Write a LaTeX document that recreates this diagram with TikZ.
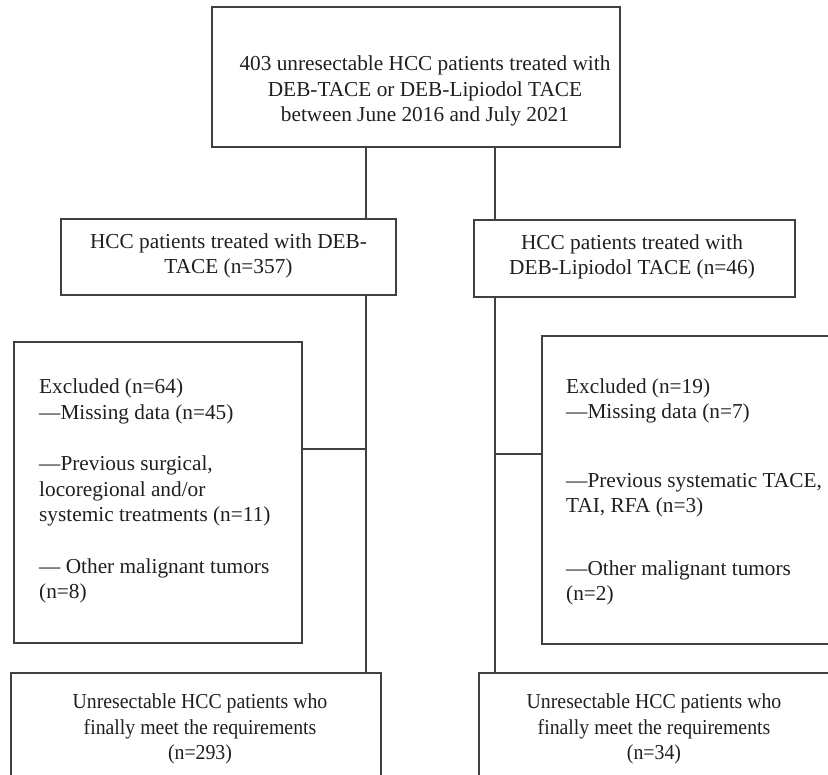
\documentclass[tikz,border=0pt]{standalone}
\usepackage{fontspec}
\setmainfont{Liberation Serif}
\usepackage{tikz}
\usetikzlibrary{calc}
\tikzset{
	box/.style={draw=black!75, line width=1.3pt, rectangle, inner sep=0pt},
	txt/.style={font=\fontsize{21.3}{25.5}\selectfont, inner sep=0pt, align=center, text=black!88},
	narrowtxt/.style={txt, xscale=0.93, transform shape},
	link/.style={draw=black!75, line width=1.3pt}
}

\begin{document}
\begin{tikzpicture}[x=1pt, y=-1pt]
			%%%%% START %%%%%
			\useasboundingbox (0,0) rectangle (828,775);
			\clip (0,0) rectangle (828,775);
			
			% columns
			\coordinate (colL) at (366,0);
			\coordinate (colR) at (495,0);
			
			% boxes
			\node[box, minimum width=408pt, minimum height=140pt] (top) at (416,77) {};
			\node[box, minimum width=335pt, minimum height=76pt] (ldeb) at (228.5,257) {};
			\node[box, minimum width=321pt, minimum height=77pt] (rdeb) at (634.5,258.5) {};
			\node[box, minimum width=288pt, minimum height=301pt] (lexc) at (158,492.5) {};
			\node[box, minimum width=308pt, minimum height=308pt] (rexc) at (696,490) {};
			\node[box, minimum width=370pt, minimum height=127pt] (lfin) at (196,736.5) {};
			\node[box, minimum width=366pt, minimum height=127pt] (rfin) at (662,736.5) {};
			
			% texts
			\node[txt] (toptxt) at (425,91) {403 unresectable HCC patients treated with\\DEB-TACE or DEB-Lipiodol TACE\\between June 2016 and July 2021};
			\node[txt] (ldebtxt) at (228.5,256) {HCC patients treated with DEB-\\TACE (n=357)};
			\node[txt] (rdebtxt) at (632,257) {HCC patients treated with\\DEB-Lipiodol TACE (n=46)};
			\node[txt, align=left, anchor=west] (lexctxt) at (39,491) {Excluded (n=64)\\---Missing data (n=45)\\[26pt]---Previous surgical,\\locoregional and/or\\systemic treatments (n=11)\\[26pt]--- Other malignant tumors\\(n=8)};
			\node[txt, align=left, anchor=west] (rexctxt) at (566,492) {Excluded (n=19)\\---Missing data (n=7)\\[43pt]---Previous systematic TACE,\\TAI, RFA (n=3)\\[37pt]---Other malignant tumors\\(n=2)};
			\node[narrowtxt] (lfintxt) at (200,729) {Unresectable HCC patients who\\finally meet the requirements\\(n=293)};
			\node[narrowtxt] (rfintxt) at (654,729) {Unresectable HCC patients who\\finally meet the requirements\\(n=34)};
			
			% connectors
			\draw[link] (colL |- top.south) -- (colL |- ldeb.north);
			\draw[link] (colR |- top.south) -- (colR |- rdeb.north);
			\draw[link] (colL |- ldeb.south) -- (colL |- lfin.north);
			\draw[link] (colR |- rdeb.south) -- (colR |- rfin.north);
			\coordinate (lbr) at (366,449);
			\coordinate (rbr) at (495,454);
			\draw[link] (lbr) -- (lbr -| lexc.east);
			\draw[link] (rbr) -- (rbr -| rexc.west);
			
			%%%%% END %%%%%
\end{tikzpicture}
\end{document}
